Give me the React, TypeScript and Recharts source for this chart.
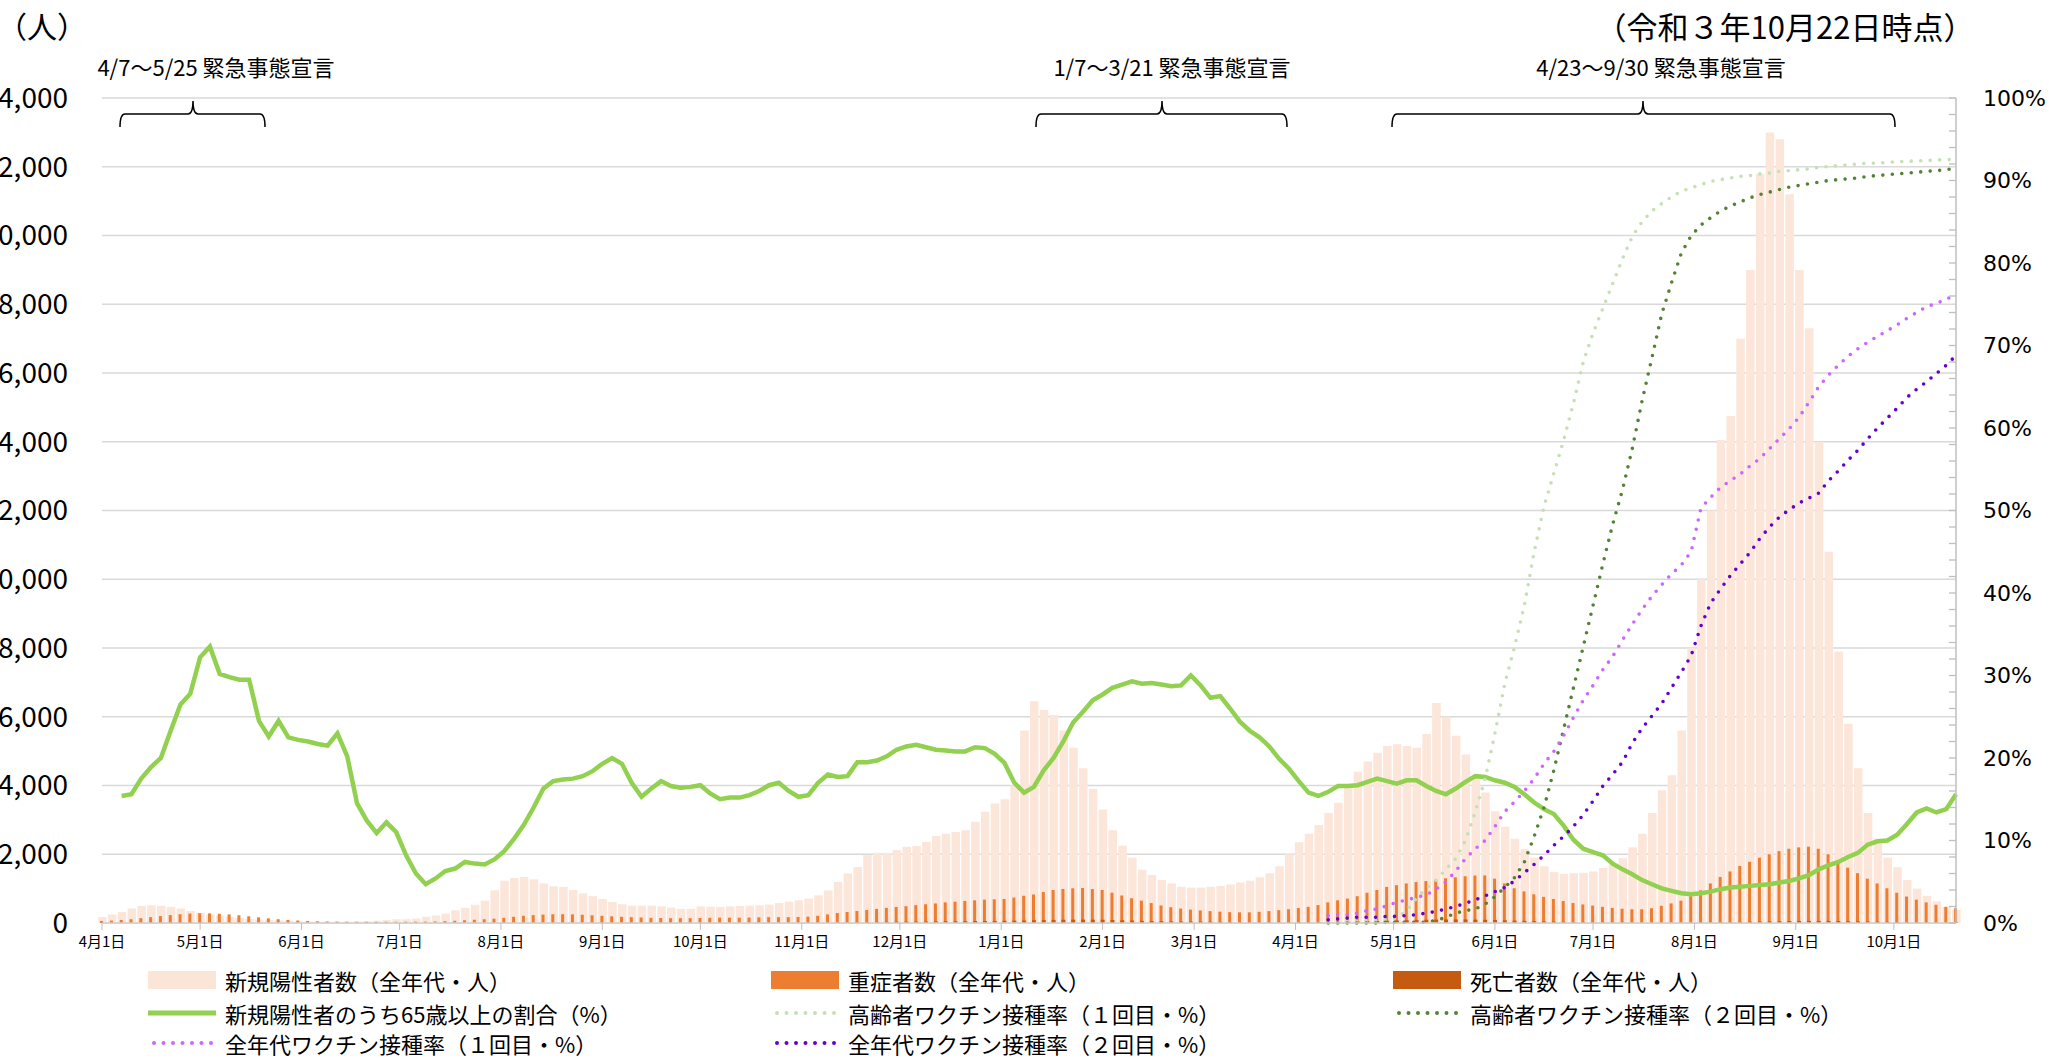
import React from "react";
import { ComposedChart, Bar, Line, XAxis, YAxis, CartesianGrid } from "recharts";

const JP = '"Noto Sans CJK JP", "Noto Sans", sans-serif';

// x positions: days since 2020-04-01, one sample every third day
const monthTicks = [0, 30, 61, 91, 122, 153, 183, 214, 244, 275, 306, 334, 365, 395, 426, 456, 487, 518, 548];
const monthLabels = [
  "4月1日", "5月1日", "6月1日", "7月1日", "8月1日", "9月1日", "10月1日", "11月1日", "12月1日",
  "1月1日", "2月1日", "3月1日", "4月1日", "5月1日", "6月1日", "7月1日", "8月1日", "9月1日", "10月1日",
];
const leftTicks = [0, 2000, 4000, 6000, 8000, 10000, 12000, 14000, 16000, 18000, 20000, 22000, 24000];
const rightTicks = Array.from({ length: 51 }, (_, i) => i * 2);

// 新規陽性者数（全年代・人）
const positives = [
  175, 250, 320, 420, 500, 515, 500, 470, 420, 350,
  290, 250, 220, 180, 145, 115, 95, 85, 75, 70,
  50, 45, 42, 40, 40, 42, 48, 55, 65, 85,
  110, 110, 130, 180, 220, 270, 370, 440, 530, 650,
  950, 1230, 1310, 1340, 1270, 1150, 1070, 1050, 960, 860,
  780, 700, 610, 545, 505, 505, 505, 485, 450, 410,
  410, 485, 475, 465, 485, 495, 505, 515, 535, 580,
  620, 660, 710, 805, 950, 1195, 1440, 1630, 1975, 2040,
  2040, 2120, 2215, 2235, 2360, 2530, 2600, 2645, 2700, 2945,
  3240, 3480, 3600, 4000, 5600, 6450, 6200, 6050, 5600, 5100,
  4500, 3900, 3300, 2700, 2250, 1900, 1550, 1400, 1250, 1150,
  1050, 1030, 1030, 1050, 1080, 1120, 1180, 1230, 1330, 1450,
  1650, 2000, 2350, 2600, 2850, 3200, 3500, 4000, 4400, 4700,
  4950, 5150, 5200, 5150, 5100, 5500, 6400, 6000, 5450, 4900,
  4250, 3800, 3250, 2800, 2450, 2150, 1900, 1650, 1480, 1430,
  1450, 1460, 1500, 1600, 1700, 1880, 2200, 2600, 3200, 3860,
  4300, 5600, 8000, 10000, 12000, 14050, 14750, 17000, 19000, 21800,
  23000, 22800, 21200, 19000, 17300, 14000, 10800, 7900, 5800, 4500,
  3200, 2450, 1900, 1620, 1250, 1000, 790, 630, 470, 380,
];

// 重症者数（全年代・人）
const severe = [
  60, 70, 90, 110, 140, 170, 200, 230, 255, 275,
  285, 280, 270, 250, 225, 195, 165, 135, 110, 90,
  72, 60, 50, 44, 40, 37, 35, 34, 34, 34,
  34, 36, 38, 40, 45, 55, 65, 80, 95, 110,
  125, 150, 180, 210, 230, 245, 255, 255, 250, 240,
  225, 210, 195, 180, 170, 160, 150, 145, 140, 140,
  140, 145, 150, 155, 155, 155, 160, 165, 170, 170,
  170, 175, 185, 210, 250, 290, 320, 350, 380, 410,
  440, 465, 490, 520, 545, 570, 600, 620, 640, 660,
  680, 690, 700, 740, 790, 830, 900, 960, 990, 1010,
  1020, 990, 960, 880, 800, 720, 650, 580, 510, 460,
  420, 390, 365, 345, 330, 315, 310, 310, 325, 345,
  375, 400, 435, 470, 520, 600, 660, 710, 780, 880,
  960, 1050, 1100, 1150, 1190, 1220, 1260, 1300, 1330, 1360,
  1380, 1385, 1290, 1150, 1010, 920, 835, 760, 700, 640,
  580, 540, 505, 470, 440, 415, 400, 400, 430, 500,
  570, 650, 780, 950, 1150, 1340, 1500, 1660, 1780, 1900,
  2000, 2090, 2160, 2200, 2220, 2160, 2000, 1800, 1610, 1450,
  1290, 1150, 1010, 880, 770, 680, 600, 530, 470, 430,
];

// 死亡者数（全年代・人）
const deaths = [
  2, 3, 5, 8, 10, 13, 16, 18, 20, 22,
  22, 20, 18, 15, 12, 9, 7, 5, 4, 3,
  2, 2, 2, 1, 1, 1, 1, 1, 1, 1,
  1, 1, 1, 2, 2, 3, 4, 5, 6, 7,
  8, 9, 10, 10, 11, 11, 10, 10, 9, 8,
  8, 7, 7, 6, 6, 6, 5, 5, 5, 5,
  6, 6, 6, 6, 6, 6, 6, 7, 7, 8,
  8, 9, 10, 12, 15, 18, 22, 26, 30, 33,
  36, 38, 40, 42, 45, 48, 50, 52, 55, 58,
  60, 62, 65, 70, 75, 80, 85, 90, 95, 98,
  100, 98, 95, 88, 80, 72, 65, 58, 52, 46,
  42, 40, 38, 35, 32, 28, 25, 22, 20, 18,
  18, 18, 20, 22, 24, 28, 32, 38, 44, 50,
  58, 66, 74, 82, 90, 96, 100, 104, 106, 104,
  100, 94, 86, 78, 70, 62, 54, 46, 40, 34,
  28, 24, 20, 17, 15, 13, 12, 11, 10, 10,
  11, 12, 14, 17, 20, 24, 28, 33, 38, 43,
  48, 52, 56, 60, 62, 62, 60, 57, 53, 48,
  43, 38, 33, 29, 25, 22, 19, 17, 15, 12,
];

// 新規陽性者のうち65歳以上の割合（%）
const pct65 = [
  null, null, 15.4, 15.6, 17.5, 18.9, 20.0, 23.3, 26.5, 27.8,
  32.2, 33.5, 30.2, 29.8, 29.5, 29.5, 24.5, 22.6, 24.5, 22.5,
  22.2, 22.0, 21.7, 21.5, 23.0, 20.2, 14.5, 12.4, 10.9, 12.2,
  11.0, 8.2, 6.0, 4.7, 5.4, 6.3, 6.6, 7.4, 7.2, 7.1,
  7.7, 8.7, 10.2, 11.9, 14.0, 16.3, 17.2, 17.4, 17.5, 17.8,
  18.4, 19.3, 20.0, 19.3, 17.0, 15.3, 16.3, 17.2, 16.6, 16.4,
  16.5, 16.7, 15.7, 15.0, 15.2, 15.2, 15.5, 16.0, 16.7, 17.0,
  16.0, 15.3, 15.5, 17.0, 18.0, 17.7, 17.8, 19.5, 19.5, 19.7,
  20.2, 21.0, 21.4, 21.6, 21.3, 21.0, 20.9, 20.8, 20.8, 21.3,
  21.2, 20.5, 19.4, 17.0, 15.8, 16.5, 18.5, 20.0, 22.0, 24.3,
  25.6, 27.0, 27.7, 28.5, 28.9, 29.3, 29.0, 29.1, 28.9, 28.7,
  28.8, 30.0, 28.8, 27.3, 27.5, 26.0, 24.4, 23.3, 22.5, 21.4,
  19.9, 18.7, 17.2, 15.8, 15.4, 15.9, 16.6, 16.6, 16.7, 17.1,
  17.5, 17.2, 16.9, 17.3, 17.3, 16.6, 16.0, 15.6, 16.3, 17.1,
  17.8, 17.7, 17.3, 17.0, 16.5, 15.6, 14.6, 13.8, 13.2, 11.8,
  10.1, 9.0, 8.6, 8.2, 7.2, 6.5, 5.9, 5.2, 4.7, 4.2,
  3.9, 3.6, 3.5, 3.6, 3.8, 4.1, 4.3, 4.4, 4.5, 4.6,
  4.7, 4.9, 5.1, 5.4, 5.8, 6.5, 7.0, 7.4, 8.0, 8.5,
  9.5, 9.9, 10.0, 10.7, 12.0, 13.4, 13.9, 13.4, 13.8, 15.6,
];

// vaccination series begin at the 126th sample (2021-04-11)
const VAX_START = 125;

// 高齢者ワクチン接種率（１回目・%）
const elderly1 = [
  0.1, 0.1, 0.2, 0.2, 0.3, 0.3, 0.4, 0.6, 1.5, 3.0,
  4.2, 5.2, 6.5, 7.8, 10.0, 13.5, 17.5, 23.0, 29.0, 33.5,
  38.5, 45.0, 50.5, 54.5, 58.5, 63.0, 68.0, 71.5, 74.5, 77.5,
  80.5, 83.2, 85.0, 86.3, 87.2, 88.0, 88.7, 89.1, 89.5, 89.9,
  90.1, 90.3, 90.5, 90.6, 90.8, 90.9, 91.1, 91.2, 91.3, 91.4,
  91.6, 91.7, 91.8, 91.9, 92.0, 92.1, 92.1, 92.2, 92.3, 92.3,
  92.4, 92.4, 92.5, 92.5, 92.6,
];

// 高齢者ワクチン接種率（２回目・%）
const elderly2 = [
  0, 0, 0, 0, 0, 0, 0.1, 0.1, 0.1, 0.1,
  0.1, 0.3, 0.7, 1.2, 1.5, 1.7, 2.3, 3.2, 4.3, 5.5,
  7.4, 10.5, 14.0, 18.5, 23.5, 28.5, 33.5, 38.5, 43.5, 48.3,
  52.5, 57.5, 63.3, 68.5, 73.8, 77.6, 81.2, 83.3, 84.6, 85.5,
  86.3, 86.9, 87.4, 87.9, 88.3, 88.6, 88.9, 89.2, 89.4, 89.6,
  89.8, 90.0, 90.1, 90.2, 90.3, 90.5, 90.6, 90.7, 90.8, 90.9,
  91.0, 91.1, 91.2, 91.3, 91.5,
];

// 全年代ワクチン接種率（１回目・%）
const allAges1 = [
  0.9, 1.0, 1.0, 1.2, 1.5, 1.7, 2.1, 2.5, 2.8, 3.1,
  3.4, 4.1, 5.0, 6.3, 7.8, 9.0, 10.0, 11.7, 13.5, 14.7,
  16.0, 17.5, 19.3, 20.8, 22.7, 24.9, 27.0, 28.8, 30.7, 32.3,
  34.3, 36.2, 38.0, 39.6, 41.0, 42.3, 43.4, 45.0, 50.3, 51.6,
  52.8, 53.6, 54.4, 55.4, 56.3, 57.5, 58.7, 59.9, 61.3, 63.1,
  65.0, 66.4, 67.6, 68.7, 69.6, 70.4, 71.1, 71.8, 72.5, 73.3,
  74.0, 74.7, 75.1, 75.6, 76.2,
];

// 全年代ワクチン接種率（２回目・%）
const allAges2 = [
  0.4, 0.5, 0.6, 0.7, 0.7, 0.7, 0.8, 0.8, 0.9, 1.0,
  1.2, 1.4, 1.7, 2.0, 2.4, 2.8, 3.3, 3.8, 4.3, 5.1,
  6.1, 7.1, 8.2, 9.4, 10.5, 11.7, 13.1, 14.8, 16.6, 18.0,
  19.5, 21.8, 23.6, 25.1, 26.6, 28.5, 30.4, 32.4, 36.0, 38.8,
  40.5, 42.1, 43.5, 44.9, 46.6, 48.0, 49.2, 50.1, 50.9, 51.5,
  52.1, 53.6, 54.8, 56.1, 57.3, 58.7, 60.0, 61.2, 62.4, 63.7,
  64.7, 65.6, 66.6, 67.6, 68.8,
];

const vax = (arr: number[], i: number) => (i >= VAX_START ? arr[i - VAX_START] : null);

const rows = positives.map((p, i) => ({
  day: i * 3,
  positives: p,
  severe: severe[i],
  deaths: deaths[i],
  pct65: pct65[i],
  elderly1: vax(elderly1, i),
  elderly2: vax(elderly2, i),
  allAges1: vax(allAges1, i),
  allAges2: vax(allAges2, i),
}));

const C = {
  positives: "#FCE6D9",
  severe: "#ED7D31",
  deaths: "#C55A11",
  pct65: "#92D050",
  elderly1: "#C5E0B4",
  elderly2: "#548235",
  allAges1: "#CC66FF",
  allAges2: "#6600CC",
};

const legendRows = [
  [
    { label: "新規陽性者数（全年代・人）", kind: "bar", color: "#FBE5D6" },
    { label: "重症者数（全年代・人）", kind: "bar", color: C.severe },
    { label: "死亡者数（全年代・人）", kind: "bar", color: C.deaths },
  ],
  [
    { label: "新規陽性者のうち65歳以上の割合（%）", kind: "solid", color: C.pct65 },
    { label: "高齢者ワクチン接種率（１回目・%）", kind: "dot", color: C.elderly1 },
    { label: "高齢者ワクチン接種率（２回目・%）", kind: "dot", color: C.elderly2 },
  ],
  [
    { label: "全年代ワクチン接種率（１回目・%）", kind: "dot", color: C.allAges1 },
    { label: "全年代ワクチン接種率（２回目・%）", kind: "dot", color: C.allAges2 },
  ],
];
const legendCols = [148, 771, 1393];
const legendRowY = [980, 1013, 1043];

// emergency declaration annotations (pixel placement, like the hand-placed originals)
const notes = [
  { text: "4/7～5/25 緊急事態宣言", cx: 216, x1: 120, x2: 265, xc: 193 },
  { text: "1/7～3/21 緊急事態宣言", cx: 1172, x1: 1036, x2: 1287, xc: 1162 },
  { text: "4/23～9/30 緊急事態宣言", cx: 1661, x1: 1392, x2: 1895, xc: 1643 },
];

function RightTick(props: any) {
  const { x, y, payload } = props;
  const v = payload.value;
  return (
    <g>
      <line x1={x - 7} x2={x} y1={y} y2={y} stroke="#BFBFBF" strokeWidth={1.3} />
      {v % 10 === 0 && (
        <text x={x + 27} y={y} dy="0.36em" fontFamily="DejaVu Sans" fontSize={22} fill="#000">
          {v}%
        </text>
      )}
    </g>
  );
}

function bracketPath(x1: number, x2: number, xc: number) {
  const yh = 114, ye = 127, yt = 101, r = 5;
  return `M${x1},${ye} Q${x1},${yh} ${x1 + r},${yh} L${xc - r},${yh} Q${xc},${yh} ${xc},${yt} Q${xc},${yh} ${xc + r},${yh} L${x2 - r},${yh} Q${x2},${yh} ${x2},${ye}`;
}

export default function App() {
  return (
    <div style={{ position: "absolute", left: 0, top: 0, width: 2049, height: 1059, background: "#fff" }}>
      <ComposedChart width={2049} height={1059} data={rows} margin={{ top: 98, right: 0, bottom: 106, left: 0 }}>
        <CartesianGrid xAxisId="x" yAxisId="left" vertical={false} stroke="#D9D9D9" strokeWidth={1.5} />
        <XAxis
          xAxisId="x"
          dataKey="day"
          type="number"
          domain={[0, 567]}
          ticks={monthTicks}
          interval={0}
          height={30}
          tickFormatter={(v) => monthLabels[monthTicks.indexOf(v)] ?? ""}
          tick={{ fontFamily: JP, fontSize: 15, fill: "#000" }}
          tickSize={7}
          tickMargin={6}
          tickLine={{ stroke: "#BFBFBF" }}
          axisLine={{ stroke: "#D0D0D0", strokeWidth: 1.5 }}
        />
        <XAxis xAxisId="sev" dataKey="day" type="number" domain={[0, 567]} height={0} hide />
        <XAxis xAxisId="dth" dataKey="day" type="number" domain={[0, 567]} height={0} hide />
        <YAxis
          yAxisId="left"
          domain={[0, 24000]}
          ticks={leftTicks}
          interval={0}
          width={102}
          axisLine={false}
          tickLine={false}
          tickSize={0}
          tickMargin={34}
          tickFormatter={(v) => Number(v).toLocaleString("en-US")}
          tick={{ fontFamily: JP, fontSize: 28, fill: "#000" }}
        />
        <YAxis
          yAxisId="right"
          orientation="right"
          domain={[0, 100]}
          ticks={rightTicks}
          interval={0}
          width={93}
          axisLine={{ stroke: "#BFBFBF", strokeWidth: 1.5 }}
          tickLine={false}
          tickSize={0}
          tickMargin={0}
          tick={<RightTick />}
        />
        <Bar xAxisId="x" yAxisId="left" dataKey="positives" fill={C.positives} barSize={8.5} isAnimationActive={false} />
        <Bar xAxisId="sev" yAxisId="left" dataKey="severe" fill={C.severe} barSize={3} isAnimationActive={false} />
        <Bar xAxisId="dth" yAxisId="left" dataKey="deaths" fill={C.deaths} barSize={4} isAnimationActive={false} />
        <Line xAxisId="x" yAxisId="right" dataKey="pct65" stroke={C.pct65} strokeWidth={4.5} dot={false} activeDot={false} type="linear" isAnimationActive={false} />
        {(["elderly1", "elderly2", "allAges1", "allAges2"] as const).map((k) => (
          <Line
            key={k}
            xAxisId="x"
            yAxisId="right"
            dataKey={k}
            stroke={C[k]}
            strokeWidth={3.6}
            strokeDasharray="0 9.5"
            strokeLinecap="round"
            dot={false}
            activeDot={false}
            type="linear"
            isAnimationActive={false}
          />
        ))}
      </ComposedChart>

      <svg width={2049} height={1059} style={{ position: "absolute", left: 0, top: 0, pointerEvents: "none" }}>
        <text x={42} y={25} textAnchor="middle" dominantBaseline="central" fontFamily={JP} fontSize={30} fill="#000">
          （人）
        </text>
        <text x={1785} y={25} textAnchor="middle" dominantBaseline="central" fontFamily={JP} fontSize={31} fill="#000">
          （令和３年10月22日時点）
        </text>
        {notes.map((n) => (
          <g key={n.text}>
            <text x={n.cx} y={66} textAnchor="middle" dominantBaseline="central" fontFamily={JP} fontSize={22} fill="#000">
              {n.text}
            </text>
            <path d={bracketPath(n.x1, n.x2, n.xc)} fill="none" stroke="#000" strokeWidth={1.5} />
          </g>
        ))}
        {legendRows.map((row, r) =>
          row.map((item, c) => {
            const x = legendCols[c];
            const y = legendRowY[r];
            return (
              <g key={item.label}>
                {item.kind === "bar" && <rect x={x} y={y - 9} width={68} height={18} fill={item.color} />}
                {item.kind === "solid" && <line x1={x} x2={x + 68} y1={y} y2={y} stroke={item.color} strokeWidth={5} />}
                {item.kind === "dot" && (
                  <line x1={x + 6} x2={x + 64} y1={y} y2={y} stroke={item.color} strokeWidth={4} strokeDasharray="0 9.5" strokeLinecap="round" />
                )}
                <text x={x + 77} y={y} dominantBaseline="central" fontFamily={JP} fontSize={22} fill="#000">
                  {item.label}
                </text>
              </g>
            );
          })
        )}
      </svg>
    </div>
  );
}
